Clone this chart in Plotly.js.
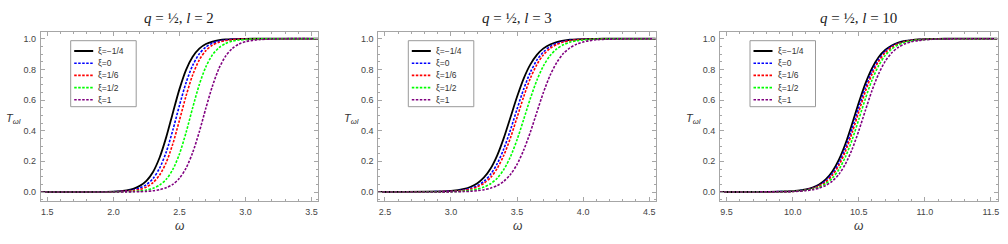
<!DOCTYPE html>
<html><head><meta charset="utf-8">
<script src="https://cdn.plot.ly/plotly-3.0.1.min.js"></script>
<style>html,body{margin:0;padding:0;background:#fff}#chart{width:1008px;height:244px}</style>
</head><body><div id="chart"></div>
<script>
// ---------- data ----------
const xiLabels = ['ξ=−1/4', 'ξ=0', 'ξ=1/6', 'ξ=1/2', 'ξ=1'];
const lLabels = ['2', '3', '10'];

const omegaL2 = [1.45, 2.0, 2.1, 2.15, 2.2, 2.25, 2.3, 2.35, 2.4, 2.45, 2.5, 2.55, 2.6, 2.65, 2.7, 2.75, 2.8, 2.85, 2.9, 2.95, 3.0, 3.1, 3.2, 3.3, 3.55];
const TL2_xiNeg14 = [0, 0.003, 0.011, 0.021, 0.040, 0.073, 0.131, 0.225, 0.358, 0.516, 0.671, 0.797, 0.882, 0.935, 0.965, 0.981, 0.990, 0.995, 0.997, 0.998, 0.999, 1, 1, 1, 1];
const TL2_xi0     = [0, 0.002, 0.007, 0.014, 0.026, 0.048, 0.088, 0.156, 0.261, 0.404, 0.565, 0.713, 0.826, 0.901, 0.946, 0.971, 0.985, 0.992, 0.996, 0.998, 0.999, 1, 1, 1, 1];
const TL2_xi16    = [0, 0.001, 0.005, 0.009, 0.017, 0.033, 0.061, 0.111, 0.193, 0.314, 0.468, 0.627, 0.763, 0.861, 0.922, 0.958, 0.977, 0.988, 0.994, 0.997, 0.998, 0.999, 1, 1, 1];
const TL2_xi12    = [0, 0.0005, 0.002, 0.0035, 0.007, 0.013, 0.024, 0.045, 0.083, 0.147, 0.248, 0.388, 0.549, 0.700, 0.817, 0.895, 0.942, 0.969, 0.984, 0.991, 0.995, 0.999, 1, 1, 1];
const TL2_xi1     = [0, 0.0002, 0.0007, 0.0012, 0.0023, 0.0043, 0.008, 0.015, 0.028, 0.050, 0.090, 0.156, 0.257, 0.392, 0.547, 0.692, 0.808, 0.887, 0.936, 0.965, 0.981, 0.994, 0.998, 1, 1];

const omegaL3 = [2.45, 3.0, 3.1, 3.15, 3.2, 3.25, 3.3, 3.35, 3.4, 3.45, 3.5, 3.55, 3.6, 3.65, 3.7, 3.75, 3.8, 3.85, 3.9, 3.95, 4.0, 4.1, 4.2, 4.3, 4.55];
const TL3_xiNeg14 = [0, 0.007, 0.020, 0.034, 0.057, 0.095, 0.153, 0.239, 0.353, 0.486, 0.621, 0.740, 0.831, 0.895, 0.937, 0.962, 0.978, 0.987, 0.993, 0.996, 0.9975, 0.999, 1, 1, 1];
const TL3_xi0     = [0, 0.005, 0.014, 0.024, 0.042, 0.070, 0.116, 0.185, 0.282, 0.405, 0.541, 0.671, 0.780, 0.860, 0.914, 0.949, 0.970, 0.982, 0.990, 0.994, 0.9965, 0.999, 1, 1, 1];
const TL3_xi16    = [0, 0.004, 0.011, 0.020, 0.034, 0.057, 0.095, 0.154, 0.240, 0.353, 0.486, 0.621, 0.740, 0.831, 0.895, 0.937, 0.962, 0.978, 0.987, 0.993, 0.996, 0.998, 1, 1, 1];
const TL3_xi12    = [0, 0.002, 0.006, 0.011, 0.019, 0.032, 0.054, 0.090, 0.147, 0.230, 0.341, 0.473, 0.608, 0.729, 0.823, 0.890, 0.933, 0.960, 0.977, 0.986, 0.992, 0.997, 0.999, 1, 1];
const TL3_xi1     = [0, 0.001, 0.003, 0.005, 0.009, 0.015, 0.025, 0.042, 0.070, 0.114, 0.180, 0.273, 0.389, 0.521, 0.650, 0.761, 0.844, 0.903, 0.940, 0.964, 0.979, 0.993, 0.997, 0.999, 1];

const omegaL10 = [9.45, 10.0, 10.1, 10.15, 10.2, 10.25, 10.3, 10.35, 10.4, 10.45, 10.5, 10.55, 10.6, 10.65, 10.7, 10.75, 10.8, 10.85, 10.9, 10.95, 11.0, 11.1, 11.2, 11.3, 11.55];
const TL10_xiNeg14 = [0, 0.006, 0.017, 0.029, 0.049, 0.082, 0.134, 0.211, 0.316, 0.445, 0.582, 0.707, 0.807, 0.879, 0.926, 0.956, 0.974, 0.985, 0.991, 0.995, 0.997, 0.999, 1, 1, 1];
const TL10_xi0     = [0, 0.005, 0.015, 0.025, 0.043, 0.072, 0.119, 0.190, 0.289, 0.413, 0.550, 0.679, 0.786, 0.864, 0.917, 0.950, 0.971, 0.983, 0.990, 0.994, 0.997, 0.999, 1, 1, 1];
const TL10_xi16    = [0, 0.004, 0.013, 0.023, 0.039, 0.065, 0.108, 0.174, 0.267, 0.387, 0.522, 0.655, 0.767, 0.851, 0.908, 0.945, 0.967, 0.981, 0.989, 0.994, 0.996, 0.999, 1, 1, 1];
const TL10_xi12    = [0, 0.004, 0.011, 0.019, 0.032, 0.054, 0.090, 0.147, 0.230, 0.341, 0.473, 0.608, 0.729, 0.823, 0.890, 0.933, 0.960, 0.977, 0.986, 0.992, 0.995, 0.998, 1, 1, 1];
const TL10_xi1     = [0, 0.003, 0.009, 0.015, 0.025, 0.043, 0.071, 0.116, 0.184, 0.279, 0.399, 0.532, 0.661, 0.770, 0.852, 0.908, 0.944, 0.967, 0.980, 0.988, 0.993, 0.998, 0.999, 1, 1];

const xRanges = [[1.45, 3.55], [2.45, 4.55], [9.45, 11.55]];

// ---------- styling / layout ----------
const W = 1008, H = 244;
const colors = ['#000000', '#0000ff', '#ff0000', '#00ff00', '#800080'];
const widths = [1.8, 1.6, 1.6, 1.6, 1.6];
const dashes = ['solid', '2.5px,1.5px', '2.5px,1.5px', '2.5px,1.5px', '2.5px,1.5px'];
const plotLeft = [40.7, 378.3, 720];
const plotWidth = 277.5;
const plotTop = 32, plotBottom = 201;
const frameColor = '#a6a6a6';
const tickFont = {family: 'Liberation Sans, Arial, sans-serif', size: 9, color: '#444'};

const omegas = [omegaL2, omegaL3, omegaL10];
const series = [
  [TL2_xiNeg14, TL2_xi0, TL2_xi16, TL2_xi12, TL2_xi1],
  [TL3_xiNeg14, TL3_xi0, TL3_xi16, TL3_xi12, TL3_xi1],
  [TL10_xiNeg14, TL10_xi0, TL10_xi16, TL10_xi12, TL10_xi1]
];

const px2x = v => v / W;
const px2y = v => 1 - v / H;

const traces = [];
const layout = {
  width: W, height: H,
  margin: {l: 0, r: 0, t: 0, b: 0},
  paper_bgcolor: '#fff', plot_bgcolor: '#fff',
  showlegend: false,
  annotations: [], shapes: []
};

for (let p = 0; p < 3; p++) {
  const sfx = p === 0 ? '' : String(p + 1);
  for (let i = 0; i < 5; i++) {
    traces.push({
      type: 'scatter', mode: 'lines',
      x: omegas[p], y: series[p][i],
      xaxis: 'x' + sfx, yaxis: 'y' + sfx,
      name: xiLabels[i],
      line: {color: colors[i], width: widths[i], dash: dashes[i], shape: 'spline', smoothing: 0.8},
      hoverinfo: 'skip'
    });
  }
  const L = plotLeft[p], R = L + plotWidth;
  layout['xaxis' + sfx] = {
    domain: [px2x(L), px2x(R)], range: xRanges[p], anchor: 'y' + sfx,
    showgrid: false, zeroline: false,
    showline: true, linecolor: frameColor, linewidth: 1, mirror: 'ticks',
    ticks: 'inside', ticklen: 4, tickcolor: frameColor, tickwidth: 1,
    tick0: 0, dtick: 0.5, tickformat: '.1f', tickfont: tickFont, ticklabelstandoff: 2,
    minor: {dtick: 0.1, ticks: 'inside', ticklen: 2, tickcolor: frameColor, showgrid: false}
  };
  layout['yaxis' + sfx] = {
    domain: [px2y(plotBottom), px2y(plotTop)], range: [-0.0587, 1.0437], anchor: 'x' + sfx,
    showgrid: false, zeroline: false,
    showline: true, linecolor: frameColor, linewidth: 1, mirror: 'ticks',
    ticks: 'inside', ticklen: 4, tickcolor: frameColor, tickwidth: 1,
    tick0: 0, dtick: 0.2, tickformat: '.1f', tickfont: tickFont, ticklabelstandoff: 2,
    minor: {dtick: 0.05, ticks: 'inside', ticklen: 2, tickcolor: frameColor, showgrid: false}
  };

  // panel title
  layout.annotations.push({
    xref: 'paper', yref: 'paper', x: px2x((L + R) / 2), y: px2y(18),
    xanchor: 'center', yanchor: 'middle', showarrow: false,
    text: '<i>q</i> = ½, <i>l</i> = ' + lLabels[p],
    font: {family: 'Liberation Serif, Times New Roman, serif', size: 15, color: '#222'}
  });
  // x axis label
  layout.annotations.push({
    xref: 'paper', yref: 'paper', x: px2x((L + R) / 2), y: px2y(226),
    xanchor: 'center', yanchor: 'middle', showarrow: false,
    text: '<i>ω</i>',
    font: {family: 'Liberation Sans, Arial, sans-serif', size: 12, color: '#333'}
  });
  // y axis label
  layout.annotations.push({
    xref: 'paper', yref: 'paper', x: px2x(L - 27), y: px2y(119),
    xanchor: 'center', yanchor: 'middle', showarrow: false,
    text: '<i>T</i><sub><i>ωl</i></sub>',
    font: {family: 'Liberation Sans, Arial, sans-serif', size: 11, color: '#333'}
  });

  // legend box (built from series names/colours)
  const bx = L + 30, by = 40.7, bw = 65.5, bh = 66;
  layout.shapes.push({
    type: 'rect', xref: 'paper', yref: 'paper',
    x0: px2x(bx), x1: px2x(bx + bw), y0: px2y(by + bh), y1: px2y(by),
    line: {color: '#999', width: 1}, fillcolor: '#fff', layer: 'above'
  });
  for (let i = 0; i < 5; i++) {
    const yy = by + 10.3 + 12.2 * i;
    layout.shapes.push({
      type: 'line', xref: 'paper', yref: 'paper',
      x0: px2x(bx + 3.5), x1: px2x(bx + 22.5), y0: px2y(yy), y1: px2y(yy),
      line: {color: colors[i], width: i === 0 ? 2 : 1.6, dash: dashes[i]}, layer: 'above'
    });
    layout.annotations.push({
      xref: 'paper', yref: 'paper', x: px2x(bx + 25.5), y: px2y(yy),
      xanchor: 'left', yanchor: 'middle', showarrow: false,
      text: xiLabels[i],
      font: {family: 'Liberation Sans, Arial, sans-serif', size: 8.5, color: '#333'}
    });
  }
}

Plotly.newPlot('chart', traces, layout, {staticPlot: true, displayModeBar: false});
</script></body></html>
